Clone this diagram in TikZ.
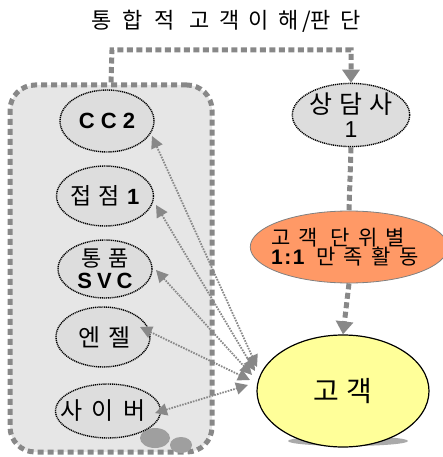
\documentclass[tikz,border=0pt]{standalone}
\usepackage{fontspec}
\newfontfamily\kr{Noto Sans CJK KR}
\newfontfamily\lat{Liberation Sans}
\usetikzlibrary{shapes.geometric,arrows.meta}
\definecolor{boxgray}{HTML}{E6E6E6}
\definecolor{lgray}{HTML}{DDDDDD}
\definecolor{dgray}{HTML}{888888}
\definecolor{orng}{HTML}{FF9966}
\definecolor{ylw}{HTML}{FFFF99}
\definecolor{shadowgray}{HTML}{AAAAAA}
\newcommand\krf[1]{\kr\fontsize{#1}{#1}\selectfont}
\newcommand\latb[1]{\lat\bfseries\fontsize{#1}{#1}\selectfont}
\tikzset{
  oval/.style={ellipse, draw=black, fill=lgray, line width=1.4pt, dash pattern=on 1.1pt off 0.8pt,
    minimum width=94pt, minimum height=60pt, inner sep=0pt, align=center},
  thickdash/.style={draw=dgray, line width=5pt, dash pattern=on 6pt off 3.5pt},
  bigtip/.style={-{Triangle[length=13pt,width=17pt]}},
  dotarrow/.style={draw=dgray, line width=1.8pt, dash pattern=on 1.6pt off 1.2pt,
    {Triangle[length=12pt,width=12pt]}-{Triangle[length=12pt,width=12pt]}},
  blob/.style={ellipse, fill=gray!75, draw=none, inner sep=0pt},
}
\begin{document}
\begin{tikzpicture}[x=1pt,y=-1pt]
\useasboundingbox (0,0) rectangle (443,457);
% title
\node[font=\krf{22}] (title) at (226,21) {통\hspace{11pt}합\hspace{11pt}적\hspace{15pt}고\hspace{10pt}객\hspace{9pt}이\hspace{9pt}해\hspace{4pt}/판\hspace{9pt}단};
% big box
\node[draw=dgray, fill=boxgray, line width=5pt, dash pattern=on 6pt off 4pt, rounded corners=25pt,
  minimum width=202pt, minimum height=367pt, inner sep=0pt] (box) at (111,268.5) {};
\node[blob, minimum width=30pt, minimum height=20pt] (b1) at (155,438) {};
\node[blob, minimum width=22pt, minimum height=16pt] (b2) at (181,445) {};
% left ellipses
\node[oval, minimum height=62pt, font=\latb{22}] (cc2) at (107,121) {C\hspace{6pt}C\hspace{6pt}2};
\node[oval, font=\krf{23}] (pt1) at (105,196) {접\hspace{7pt}점\hspace{7pt}{\latb{22}1}};
\node[oval, minimum height=58pt, font=\krf{22}] (svc) at (105,269) {통\hspace{7pt}품\\[0pt]{\latb{22}S\hspace{5pt}V\hspace{5pt}C}};
\node[oval, font=\krf{24}] (angel) at (103,337) {\hspace{4pt}엔\hspace{8pt}젤};
\node[oval, minimum height=54pt, minimum width=92pt, font=\krf{24}] (cyber) at (108,411) {\hspace{-10pt}사\hspace{9pt}이\hspace{9pt}버};
% right side
\node[oval, minimum height=62pt, font=\krf{25}] (sd) at (351,115) {상\hspace{7pt}담\hspace{7pt}사\\[-1pt]{\lat\fontsize{23}{23}\selectfont 1}};
\node[ellipse, draw=gray, fill=orng, line width=0.8pt, minimum width=184pt, minimum height=72pt,
  inner sep=0pt, align=left, font=\krf{21}] (act) at (349,247)
  {\hspace{-8pt}고\hspace{8pt}객\hspace{13pt}단\hspace{8pt}위\hspace{8pt}별\\[-2pt]
   \hspace{-8pt}{\latb{21}1\hspace{1.5pt}:\hspace{1.5pt}1}\hspace{12pt}만\hspace{8pt}족\hspace{8pt}활\hspace{9pt}동};
\node[ellipse, fill=shadowgray, minimum width=120pt, minimum height=10pt, inner sep=0pt] (shadow) at (348,441) {};
\node[ellipse, draw=black, fill=ylw, line width=1.2pt, minimum width=172pt, minimum height=112pt, inner sep=0pt, font=\krf{28}] (cust) at (343,391)
  {고\hspace{7pt}객};
% thick dashed connectors
\coordinate (tc) at (112,50);
\draw[thickdash, bigtip] (box.north) -- (tc) -| (sd.north);
\draw[thickdash] (sd.south) -- (act.north);
\draw[thickdash, bigtip] (act.south) -- (cust.north);
% dotted double arrows
\coordinate (h1) at (257,367);
\coordinate (h2) at (255,371);
\coordinate (h3) at (252,375);
\coordinate (h4) at (250,380);
\coordinate (h5) at (248,385);
\draw[dotarrow] ([shift={(45,15)}]cc2.center) -- (h1);
\draw[dotarrow] ([shift={(51,9)}]pt1.center) -- (h2);
\draw[dotarrow] ([shift={(51,1)}]svc.center) -- (h3);
\draw[dotarrow] ([shift={(37,-10)}]angel.center) -- (h4);
\draw[dotarrow] ([shift={(47,2)}]cyber.center) -- (h5);
\end{tikzpicture}
\end{document}
